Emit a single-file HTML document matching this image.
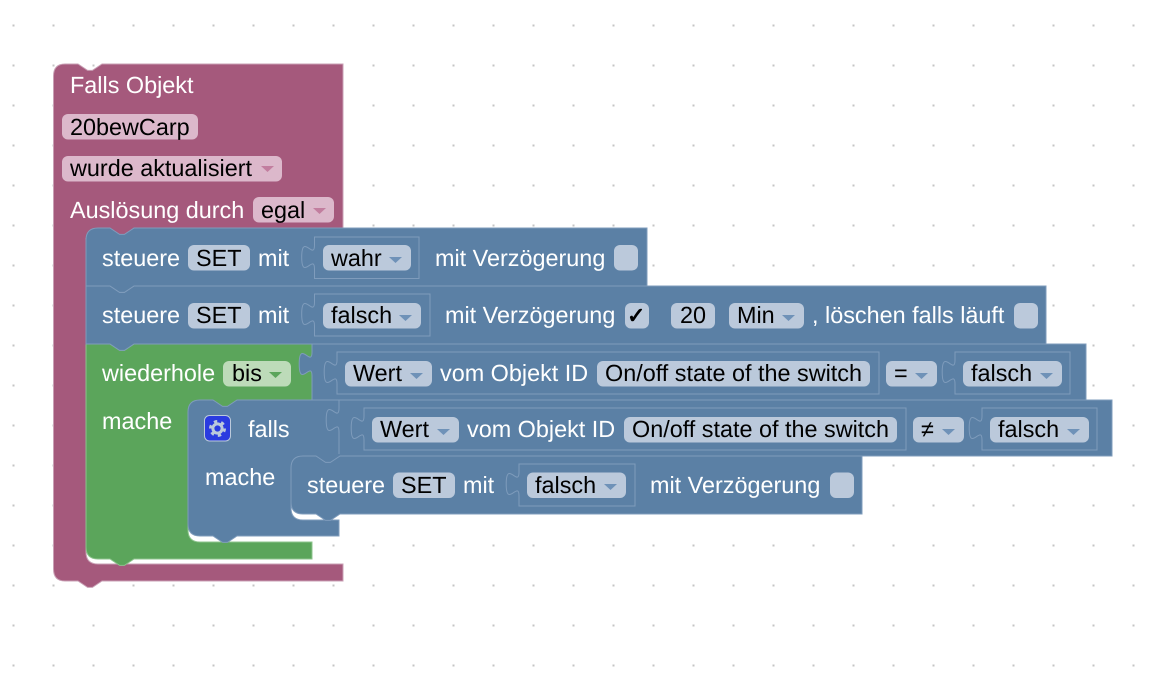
<!DOCTYPE html>
<html><head><meta charset="utf-8">
<style>
html,body{margin:0;padding:0;background:#fff;width:1168px;height:684px;overflow:hidden}
svg{display:block}
text{font-family:"Liberation Sans",sans-serif;font-size:23.4px;text-rendering:geometricPrecision}
.w{fill:#fff}.k{fill:#000}
.f{fill:#bbc9db}.fp{fill:#dcb8cb}.fg{fill:#bddbb9}
.tb{fill:#6f92b8}.tp{fill:#c27e9f}.tg{fill:#5ba55b}
.bl{fill:#5b80a5;stroke:#7f9cbc;stroke-width:1}
.pu{fill:#a5597c;stroke:#c9a0b5;stroke-width:1}
.gr{fill:#5ba55b;stroke:#8cc48c;stroke-width:1}
.so{fill:none;stroke:#7f9cbc;stroke-width:1}
</style></head><body>
<svg width="1168" height="684" viewBox="0 0 1168 684" xmlns="http://www.w3.org/2000/svg">
<defs><pattern id="g" x="11.5" y="23.5" width="40" height="40" patternUnits="userSpaceOnUse"><rect x="1" y="1" width="2" height="2" fill="#c4c4c4"/></pattern></defs>
<rect width="1168" height="684" fill="url(#g)"/>

<path class="pu" d="M53.5,76 Q53.5,64 65,64 H78 l9.6,6.4 h4.8 l9.6,-6.4 H343 V228 H86 V552 Q86,564 98,564 H343 V581 H102 l-9.6,6.4 h-4.8 l-9.6,-6.4 H65 Q53.5,581 53.5,569 Z"/>
<rect x="85" y="226" width="52" height="12" fill="#a5597c"/>
<path class="gr" d="M86,344 H110 l9.6,6.4 h4.8 l9.6,-6.4 H312 V400 H188 V530 Q188,542 200,542 H312 V559 H134 l-9.6,6.4 h-4.8 l-9.6,-6.4 H98 Q86,559 86,547 Z"/>
<rect x="187" y="398" width="54" height="14" fill="#5ba55b"/>
<path class="bl" d="M312,344 V352 c0,16 -12.8,-12.8 -12.8,12 s12.8,-4 12.8,12 V400 H1086 V344 Z"/>
<path class="bl" d="M86,286 H110 l9.6,6.4 h4.8 l9.6,-6.4 H1046 V344 H134 l-9.6,6.4 h-4.8 l-9.6,-6.4 H86 Z"/>
<path class="bl" d="M86,240 Q86,228 98,228 H110 l9.6,6.4 h4.8 l9.6,-6.4 H647 V286 H134 l-9.6,6.4 h-4.8 l-9.6,-6.4 H86 Z"/>
<path class="bl" d="M188,412 Q188,400 200,400 H213 l9.6,6.4 h4.8 l9.6,-6.4 H339 V456 H291 V508 Q291,520 303,520 H339 V536 H237 l-9.6,6.4 h-4.8 l-9.6,-6.4 H200 Q188,536 188,524 Z"/>
<path class="bl" d="M339,400 V408 c0,16 -12.8,-12.8 -12.8,12 s12.8,-4 12.8,12 V456 H1112 V400 Z"/>
<rect x="290" y="454" width="54" height="14" fill="#5b80a5"/>
<path class="bl" d="M291,468 Q291,456 303,456 H316 l9.6,6.4 h4.8 l9.6,-6.4 H862 V514 H340 l-9.6,6.4 h-4.8 l-9.6,-6.4 H303 Q291,514 291,502 Z"/>

<!-- sockets -->
<path class="so" d="M314.5,237 V245 c0,16 -12.8,-12.8 -12.8,12 s12.8,-4 12.8,12 V278.5 H419 V237 Z"/>
<path class="so" d="M314.5,294 V302 c0,16 -12.8,-12.8 -12.8,12 s12.8,-4 12.8,12 V336 H430 V294 Z"/>
<path class="so" d="M337,352 V360 c0,16 -12.8,-12.8 -12.8,12 s12.8,-4 12.8,12 V394 H879 V352 Z"/>
<path class="so" d="M955,352 V360 c0,16 -12.8,-12.8 -12.8,12 s12.8,-4 12.8,12 V394 H1070 V352 Z"/>
<path class="so" d="M364,408 V416 c0,16 -12.8,-12.8 -12.8,12 s12.8,-4 12.8,12 V450 H906 V408 Z"/>
<path class="so" d="M982,408 V416 c0,16 -12.8,-12.8 -12.8,12 s12.8,-4 12.8,12 V450 H1097 V408 Z"/>
<path class="so" d="M519,464 V472 c0,16 -12.8,-12.8 -12.8,12 s12.8,-4 12.8,12 V506 H635 V464 Z"/>

<!-- purple block -->
<text class="w" x="70" y="93">Falls Objekt</text>
<rect class="fp" x="62" y="114" width="136" height="25.5" rx="6"/>
<text class="k" x="70" y="135">20bewCarp</text>
<rect class="fp" x="62" y="156" width="220" height="25.5" rx="6"/>
<text class="k" x="70" y="176">wurde aktualisiert</text>
<path class="tp" d="M261,166 h13 l-6.5,6 Z"/>
<text class="w" x="70" y="218">Auslösung durch</text>
<rect class="fp" x="253" y="197" width="81" height="25.5" rx="6"/>
<text class="k" x="261" y="218">egal</text>
<path class="tp" d="M313,208 h13 l-6.5,6 Z"/>

<!-- row 1 -->
<text class="w" x="102" y="266">steuere</text>
<rect class="f" x="188" y="245" width="62" height="25.5" rx="6"/>
<text class="k" x="196" y="266">SET</text>
<text class="w" x="258" y="266">mit</text>
<rect class="f" x="323" y="245" width="88" height="25.5" rx="6"/>
<text class="k" x="331" y="266">wahr</text>
<path class="tb" d="M389,257 h13 l-6.5,6 Z"/>
<text class="w" x="435" y="266">mit Verzögerung</text>
<rect class="f" x="614" y="245" width="24" height="25.5" rx="6"/>

<!-- row 2 -->
<text class="w" x="102" y="323">steuere</text>
<rect class="f" x="188" y="303" width="62" height="25.5" rx="6"/>
<text class="k" x="196" y="323">SET</text>
<text class="w" x="258" y="323">mit</text>
<rect class="f" x="323" y="303" width="98" height="25.5" rx="6"/>
<text class="k" x="331" y="323">falsch</text>
<path class="tb" d="M399,315 h13 l-6.5,6 Z"/>
<text class="w" x="445" y="323">mit Verzögerung</text>
<rect class="f" x="625" y="303" width="24" height="25.5" rx="6"/>
<text x="627" y="323" style="font-family:'DejaVu Sans',sans-serif;font-size:22px;font-weight:bold" fill="#000" stroke="#000" stroke-width="0.8">✓</text>
<rect class="f" x="671" y="303" width="44" height="25.5" rx="6"/>
<text class="k" x="680" y="323">20</text>
<rect class="f" x="729" y="303" width="75" height="25.5" rx="6"/>
<text class="k" x="737" y="323">Min</text>
<path class="tb" d="M782,315 h13 l-6.5,6 Z"/>
<text class="w" x="812" y="323">, löschen falls läuft</text>
<rect class="f" x="1014" y="303" width="24" height="25.5" rx="6"/>

<!-- row 3 -->
<text class="w" x="102" y="381">wiederhole</text>
<rect class="fg" x="223" y="361" width="68" height="25.5" rx="6"/>
<text class="k" x="232" y="381">bis</text>
<path class="tg" d="M269,372 h13 l-6.5,6 Z"/>
<rect class="f" x="345" y="361" width="87" height="25.5" rx="6"/>
<text class="k" x="353" y="381">Wert</text>
<path class="tb" d="M410,373 h13 l-6.5,6 Z"/>
<text class="w" x="440" y="381">vom Objekt ID</text>
<rect class="f" x="597" y="361" width="273" height="25.5" rx="6"/>
<text class="k" x="605" y="381">On/off state of the switch</text>
<rect class="f" x="886" y="361" width="51" height="25.5" rx="6"/>
<text class="k" x="894" y="381">=</text>
<path class="tb" d="M915,373 h13 l-6.5,6 Z"/>
<rect class="f" x="963" y="361" width="99" height="25.5" rx="6"/>
<text class="k" x="971" y="381">falsch</text>
<path class="tb" d="M1040,373 h13 l-6.5,6 Z"/>

<text class="w" x="102" y="429">mache</text>

<!-- row 4 -->
<rect x="204.5" y="415.5" width="26" height="25.5" rx="5" fill="#2a3be0" stroke="#bbc9db" stroke-width="1"/>
<circle cx="217.5" cy="428.5" r="4.6" fill="none" stroke="#bbc9db" stroke-width="3"/>
<circle cx="217.5" cy="428.5" r="7" fill="none" stroke="#bbc9db" stroke-width="3" stroke-dasharray="3.3 4"/>
<text class="w" x="248" y="437">falls</text>
<rect class="f" x="372" y="417" width="87" height="25.5" rx="6"/>
<text class="k" x="380" y="437">Wert</text>
<path class="tb" d="M437,429 h13 l-6.5,6 Z"/>
<text class="w" x="467" y="437">vom Objekt ID</text>
<rect class="f" x="624" y="417" width="273" height="25.5" rx="6"/>
<text class="k" x="632" y="437">On/off state of the switch</text>
<rect class="f" x="913" y="417" width="51" height="25.5" rx="6"/>
<text class="k" x="921" y="437">≠</text>
<path class="tb" d="M942,429 h13 l-6.5,6 Z"/>
<rect class="f" x="990" y="417" width="99" height="25.5" rx="6"/>
<text class="k" x="998" y="437">falsch</text>
<path class="tb" d="M1067,429 h13 l-6.5,6 Z"/>

<text class="w" x="205" y="485">mache</text>

<!-- row 5 -->
<text class="w" x="307" y="493">steuere</text>
<rect class="f" x="393" y="472.5" width="62" height="25.5" rx="6"/>
<text class="k" x="401" y="493">SET</text>
<text class="w" x="463" y="493">mit</text>
<rect class="f" x="527" y="472.5" width="99" height="25.5" rx="6"/>
<text class="k" x="535" y="493">falsch</text>
<path class="tb" d="M604,484 h13 l-6.5,6 Z"/>
<text class="w" x="650" y="493">mit Verzögerung</text>
<rect class="f" x="830" y="472.5" width="24" height="25.5" rx="6"/>
</svg>
</body></html>
